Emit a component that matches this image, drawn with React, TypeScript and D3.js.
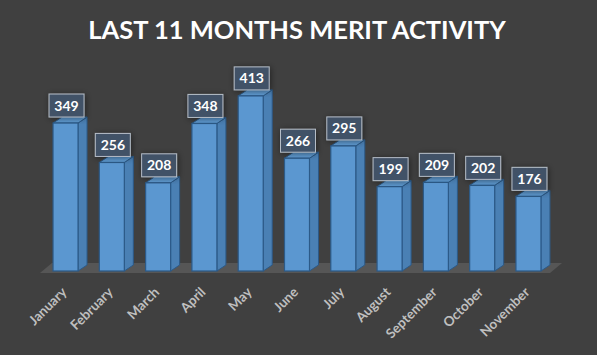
import React from "react";
import * as d3 from "d3";

const months = ["January","February","March","April","May","June","July","August","September","October","November"];
const merits = [349,256,208,348,413,266,295,199,209,202,176];
const title = "LAST 11 MONTHS MERIT ACTIVITY";

const W = 597, H = 355;
const DX = 9, DY = 6;

export default function App() {
  const x = d3.scaleBand<string>().domain(months).range([41, 553]).paddingInner(0.46).paddingOuter(0.26);
  const y = d3.scaleLinear().domain([0, 400]).range([271, 101.4]);
  const bw = x.bandwidth();
  const base = y(0);
  const font = "Lato, 'Open Sans', sans-serif";
  return (
    <svg width={W} height={H} style={{ position: "absolute", left: 0, top: 0, display: "block" }}>
      <defs>
        <filter id="sh" x="-30%" y="-30%" width="160%" height="160%">
          <feGaussianBlur in="SourceAlpha" stdDeviation="3" />
          <feOffset dx="1" dy="1" />
          <feComponentTransfer><feFuncA type="linear" slope="0.5" /></feComponentTransfer>
          <feMerge><feMergeNode /><feMergeNode in="SourceGraphic" /></feMerge>
        </filter>
      </defs>
      <rect width={W} height={H} fill="#404040" />
      <text x={297} y={39} textAnchor="middle" fill="#ffffff" fontFamily={font} fontWeight={700} fontSize={25.5}>{title}</text>
      <polygon points={`40,273 550,273 562,263 52,263`} fill="#565656" />
      {months.map((m, i) => {
        const x0 = x(m)!;
        const yt = y(merits[i]);
        return (
          <g key={m}>
            <polygon points={`${x0 + bw},${yt} ${x0 + bw + DX},${yt - DY} ${x0 + bw + DX},${base - DY} ${x0 + bw},${base}`} fill="#4a80b4" stroke="#2c5a88" strokeWidth={1} />
            <polygon points={`${x0},${yt} ${x0 + DX},${yt - DY} ${x0 + bw + DX},${yt - DY} ${x0 + bw},${yt}`} fill="#5f9bd2" stroke="#2c5a88" strokeWidth={1} />
            <rect x={x0} y={yt} width={bw} height={base - yt} fill="#5b97d0" stroke="#2c5a88" strokeWidth={1.2} />
          </g>
        );
      })}
      {months.map((m, i) => {
        const cx = x(m)! + bw / 2 + 1;
        const yt = y(merits[i]);
        const bh = 23, bwid = 35;
        const by = yt - 6 - bh;
        return (
          <g key={m + "l"}>
            <rect x={cx - bwid / 2} y={by} width={bwid} height={bh} fill="#43546a" fillOpacity={0.92} stroke="#b4bcc6" strokeWidth={1} filter="url(#sh)" />
            <text x={cx} y={by + bh / 2 + 5} textAnchor="middle" fill="#ffffff" fontFamily={font} fontWeight={700} fontSize={14}>{merits[i]}</text>
          </g>
        );
      })}
      {months.map((m) => {
        const ax = x(m)! + bw / 2 + 2;
        const ay = 293;
        return (
          <text key={m + "x"} x={ax} y={ay} transform={`rotate(-45 ${ax} ${ay})`} textAnchor="end" fill="#bfbfbf" fontFamily={font} fontWeight={700} fontSize={13.5}>{m}</text>
        );
      })}
    </svg>
  );
}
